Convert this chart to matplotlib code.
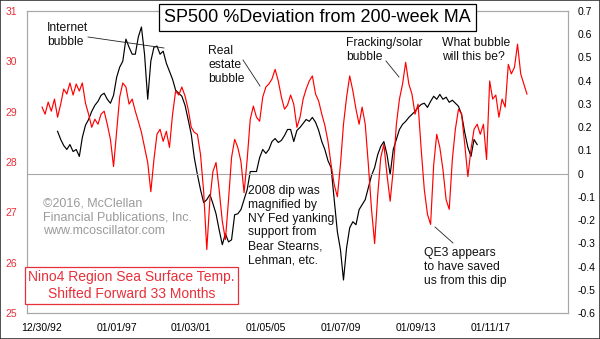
import matplotlib
matplotlib.use("Agg")
import matplotlib.pyplot as plt
import matplotlib.patches as patches
import pandas as pd

plt.rcParams['font.family'] = ['Liberation Sans', 'DejaVu Sans']

# Nino4 SST, shifted forward 33 months (deg C), one value every 2 months from Jan 1993
nino4_start = "1993-01-01"
nino4_temp = [
    29.09, 28.95, 29.19, 29.01, 29.25, 28.89, 29.15, 29.45, 29.35, 29.57,
    29.33, 29.55, 29.41, 29.57, 29.17, 28.95, 28.69, 28.85, 28.75, 28.95,
    29.01, 28.75, 28.45, 27.91, 28.61, 29.29, 29.57, 29.49, 29.15, 29.25,
    29.01, 28.81, 28.59, 28.29, 27.99, 27.41, 28.05, 28.55, 28.65, 28.41,
    28.61, 28.29, 28.95, 29.41, 29.33, 29.49, 29.31, 29.05, 28.69, 28.59,
    28.55, 28.15, 27.41, 26.26, 27.25, 27.81, 27.99, 27.45, 26.82, 26.46,
    27.25, 28.09, 28.45, 28.29, 28.01, 27.39, 28.05, 28.85, 29.11, 28.89,
    28.81, 29.29, 29.49, 29.55, 29.65, 29.84, 29.61, 29.29, 29.05, 29.13,
    29.33, 29.15, 28.69, 28.89, 29.25, 29.45, 29.61, 29.71, 29.35, 29.21,
    28.95, 28.73, 28.41, 27.95, 27.55, 27.31, 27.95, 28.75, 29.29, 29.71,
    29.41, 29.05, 28.75, 29.09, 28.75, 27.95, 27.06, 26.38, 27.35, 28.09,
    28.35, 27.75, 27.22, 27.85, 28.75, 29.25, 29.55, 29.98, 29.55, 29.35,
    28.95, 29.15, 28.25, 27.45, 26.96, 26.76, 27.95, 28.55, 28.29, 27.85,
    27.25, 27.06, 28.05, 28.65, 29.05, 28.95, 28.35, 27.71, 28.25, 28.65,
    28.75, 28.55, 28.75, 28.05, 29.61, 29.25, 29.33, 28.89, 29.25, 29.09,
    29.94, 29.75, 29.88, 30.34, 29.75, 29.55, 29.35,
]

# SP500 % deviation from 200-week MA, one value every 2 months from Nov 1993
sp_start = "1993-11-01"
sp_dev = [
    0.182, 0.147, 0.121, 0.104, 0.125, 0.095, 0.104, 0.074, 0.156, 0.208,
    0.233, 0.268, 0.294, 0.311, 0.337, 0.346, 0.320, 0.303, 0.337, 0.415,
    0.458, 0.484, 0.579, 0.544, 0.514, 0.514, 0.588, 0.631, 0.514, 0.320,
    0.484, 0.544, 0.549, 0.514, 0.527, 0.475, 0.441, 0.406, 0.359, 0.346,
    0.333, 0.294, 0.233, 0.169, 0.069, -0.004, -0.069, -0.125, -0.112, -0.090,
    -0.129, -0.173, -0.242, -0.306, -0.259, -0.294, -0.285, -0.177, -0.173, -0.155,
    -0.112, -0.069, 0.009, 0.009, 0.009, 0.069, 0.104, 0.087, 0.104, 0.138,
    0.151, 0.134, 0.143, 0.164, 0.190, 0.190, 0.138, 0.186, 0.199, 0.216,
    0.233, 0.225, 0.242, 0.221, 0.186, 0.138, 0.104, 0.056, 0.026, -0.112,
    -0.250, -0.328, -0.458, -0.319, -0.233, -0.207, -0.220, -0.155, -0.134, -0.112,
    -0.060, -0.008, 0.026, 0.082, 0.117, 0.138, 0.082, -0.004, 0.104, 0.147,
    0.190, 0.212, 0.225, 0.242, 0.255, 0.268, 0.285, 0.298, 0.303, 0.285,
    0.311, 0.333, 0.320, 0.341, 0.320, 0.329, 0.307, 0.316, 0.303, 0.290,
    0.255, 0.177, 0.113, 0.074, 0.147, 0.125,
]

tick_dates = ["1992-12-30", "1997-01-01", "2001-01-03", "2005-01-05",
              "2009-01-07", "2013-01-09", "2017-01-11"]
tick_labels = ["12/30/92", "01/01/97", "01/03/01", "01/05/05",
               "01/07/09", "01/09/13", "01/11/17"]

nino4_dates = pd.date_range(nino4_start, periods=len(nino4_temp), freq="2MS")
sp_dates = pd.date_range(sp_start, periods=len(sp_dev), freq="2MS")

red = "#ff0000"
label_red = "#e8303a"
gray = "#a8a8a8"

fig = plt.figure(figsize=(6, 3.39), dpi=100)
ax = fig.add_axes([27/600, 1 - 313/339, 541/600, 302/339])
ax2 = ax.twinx()

# black SP500 line on the main axes (right scale)
ax.plot(sp_dates, sp_dev, color="black", lw=0.85)
ax.axhline(0, color=gray, lw=0.8)
ax.set_ylim(-0.6, 0.7)
ax.set_yticks([0.7, 0.6, 0.5, 0.4, 0.3, 0.2, 0.1, 0, -0.1, -0.2, -0.3, -0.4, -0.5, -0.6])
ax.set_yticklabels(["0.7", "0.6", "0.5", "0.4", "0.3", "0.2", "0.1", "0",
                    "-0.1", "-0.2", "-0.3", "-0.4", "-0.5", "-0.6"])
ax.yaxis.tick_right()

# red Nino4 line on the twin axes (left scale), drawn on top
ax2.plot(nino4_dates, nino4_temp, color=red, lw=0.85)
ax2.set_ylim(25, 31)
ax2.set_yticks([25, 26, 27, 28, 29, 30, 31])
ax2.yaxis.tick_left()

ax.set_xlim(pd.Timestamp("1992-03-12"), pd.Timestamp("2021-03-15"))
ax.set_xticks(pd.to_datetime(tick_dates))
ax.set_xticklabels(tick_labels)

ax.tick_params(axis="y", length=0, pad=7, labelsize=7.5, labelcolor="black")
ax.tick_params(axis="x", length=0, pad=7, labelsize=7.5)
ax2.tick_params(axis="y", length=0, pad=7, labelsize=7.5, labelcolor=label_red)
for a in (ax, ax2):
    for s in a.spines.values():
        s.set_color(gray)
        s.set_linewidth(0.8)

# title box
fig.text(317.5/600, 1 - 17.5/339, "SP500 %Deviation from 200-week MA",
         ha="center", va="center", fontsize=13, zorder=10,
         bbox=dict(boxstyle="square,pad=0.3", fc="white", ec="black", lw=0.9))

# annotations
note = dict(transform=ax2.transAxes, fontsize=8.7, va="top", ha="left",
            linespacing=1.2, color="#111111")
ax2.text(0.037, 0.9636, "Internet\nbubble", **note)
ax2.text(0.3346, 0.8874, "Real\nestate\nbubble", **note)
ax2.text(0.5896, 0.914, "Fracking/solar\nbubble", **note)
ax2.text(0.767, 0.914, "What bubble\nwill this be?", **note)
ax2.text(0.4085, 0.4238, "2008 dip was\nmagnified by\nNY Fed yanking\nsupport from\n"
         "Bear Stearns,\nLehman, etc.", **note)
ax2.text(0.7338, 0.2185, "QE3 appears\nto have saved\nus from this dip", **note)

pointers = [((0.1128, 0.9139), (0.2532, 0.8775)),
            ((0.3993, 0.8377), (0.4307, 0.7517)),
            ((0.6636, 0.8344), (0.6876, 0.7815)),
            ((0.7542, 0.2848), (0.7874, 0.2318))]
for p0, p1 in pointers:
    ax2.plot([p0[0], p1[0]], [p0[1], p1[1]], transform=ax2.transAxes,
             color="#222222", lw=0.6)

ax2.text(0.0296, 0.381, "\u00a92016, McClellan\nFinancial Publications, Inc.\nwww.mcoscillator.com",
         transform=ax2.transAxes, fontsize=9, va="top", ha="left",
         linespacing=1.17, color="#9a9a9a")

fig.text(131.5/600, 1 - 285.5/339, "Nino4 Region Sea Surface Temp.\nShifted Forward 33 Months",
         ha="center", va="center", fontsize=10, color=label_red, zorder=10,
         linespacing=1.25,
         bbox=dict(boxstyle="square,pad=0.25", fc="white", ec=label_red, lw=0.9))

fig.patches.append(patches.Rectangle((0, 0), 1, 1, transform=fig.transFigure,
                                     fill=False, ec="#333333", lw=1.2))

fig.savefig("out.png", dpi=100)
